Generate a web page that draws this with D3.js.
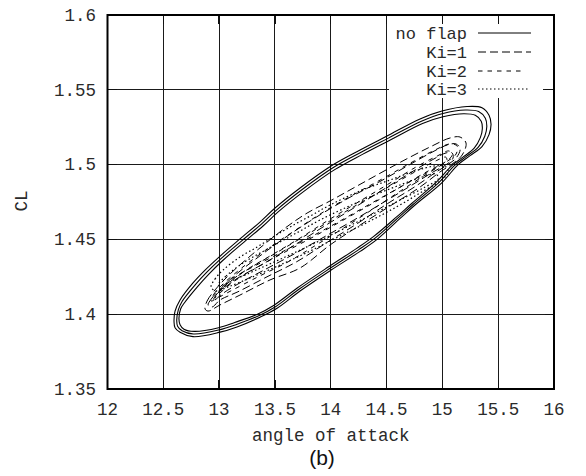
<!DOCTYPE html>
<html>
<head>
<meta charset="utf-8">
<script src="https://cdn.jsdelivr.net/npm/d3@7"></script>
<style>
  html, body { margin: 0; padding: 0; background: #fff; }
  svg { display: block; }
  .tick-label { font-family: "Liberation Mono", "DejaVu Sans Mono", monospace; font-size: 17.5px; fill: #2a2a2a; }
  .axis-title { font-family: "Liberation Mono", "DejaVu Sans Mono", monospace; font-size: 17.5px; fill: #2a2a2a; }
</style>
</head>
<body>
<svg id="chart" width="586" height="476"></svg>
<script>
// Axis ticks
const xTicks = [12, 12.5, 13, 13.5, 14, 14.5, 15, 15.5, 16];
const yTicks = [1.35, 1.4, 1.45, 1.5, 1.55, 1.6];
const xTickLabels = ["12", "12.5", "13", "13.5", "14", "14.5", "15", "15.5", "16"];
const yTickLabels = ["1.35", "1.4", "1.45", "1.5", "1.55", "1.6"];

// Series names as listed in the key
const seriesNames = ["no flap", "Ki=1", "Ki=2", "Ki=3"];

// Limit cycles: [angle of attack, CL] samples along each closed orbit
const noFlap1 = [
  [12.596,1.395],[12.605,1.402],[12.650,1.4095],[12.766,1.4209],[12.874,1.4295],[12.999,1.4382],
  [13.187,1.4503],[13.366,1.4616],[13.501,1.4710],[13.725,1.4844],[14.003,1.4991],[14.263,1.5098],
  [14.504,1.5191],[14.800,1.5305],[14.997,1.5358],[15.221,1.5388],[15.355,1.538],[15.418,1.533],
  [15.436,1.527],[15.418,1.520],[15.355,1.512],[15.248,1.506],[15.141,1.500],[14.997,1.488],
  [14.755,1.473],[14.621,1.464],[14.415,1.450],[14.263,1.442],[14.003,1.4295],[13.725,1.4155],
  [13.519,1.404],[13.366,1.398],[13.160,1.3915],[13.008,1.388],[12.766,1.385],[12.650,1.388],
  [12.605,1.391]
];
const noFlap2 = [
  [12.620,1.396],[12.635,1.403],[12.668,1.4085],[12.785,1.4196],[12.890,1.4281],[13.012,1.4368],
  [13.200,1.4489],[13.379,1.4602],[13.514,1.4696],[13.738,1.4830],[14.016,1.4977],[14.276,1.5084],
  [14.517,1.5177],[14.812,1.5290],[15.005,1.5342],[15.205,1.5365],[15.325,1.5355],[15.385,1.531],
  [15.398,1.5255],[15.380,1.519],[15.320,1.5115],[15.215,1.5055],[15.110,1.4995],[14.975,1.4885],
  [14.740,1.4735],[14.605,1.4645],[14.400,1.451],[14.248,1.443],[13.990,1.4305],[13.712,1.4165],
  [13.505,1.405],[13.355,1.399],[13.150,1.393],[13.000,1.3895],[12.770,1.3868],[12.668,1.389],
  [12.628,1.392]
];
const noFlap3 = [
  [12.640,1.397],[12.655,1.4035],[12.688,1.4075],[12.805,1.4183],[12.908,1.4268],[13.025,1.4354],
  [13.212,1.4475],[13.391,1.4588],[13.526,1.4682],[13.750,1.4816],[14.028,1.4963],[14.288,1.5070],
  [14.529,1.5163],[14.822,1.5275],[15.005,1.5320],[15.190,1.5340],[15.295,1.533],[15.348,1.529],
  [15.358,1.524],[15.340,1.518],[15.285,1.511],[15.185,1.505],[15.080,1.499],[14.955,1.489],
  [14.725,1.474],[14.590,1.465],[14.385,1.452],[14.233,1.444],[13.977,1.4315],[13.700,1.4175],
  [13.492,1.406],[13.343,1.400],[13.140,1.3945],[12.995,1.391],[12.778,1.3885],[12.685,1.390],
  [12.650,1.393]
];

const ki1a = [
  [12.874,1.4035],[12.892,1.4088],[12.963,1.4162],[13.098,1.4269],[13.322,1.4416],[13.591,1.4576],
  [13.788,1.4676],[13.994,1.4757],[14.236,1.4857],[14.594,1.5004],[14.890,1.5118],[15.069,1.5178],
  [15.159,1.5184],[15.212,1.5144],[15.177,1.5064],[15.087,1.5004],[14.979,1.4951],[14.800,1.4850],
  [14.531,1.4723],[14.263,1.4596],[13.994,1.4463],[13.725,1.4309],[13.456,1.4229],[13.187,1.4128],
  [13.008,1.4062],[12.901,1.4021]
];
const ki1b = [
  [12.901,1.4061],[12.928,1.4100],[12.999,1.4160],[13.133,1.4255],[13.357,1.4385],[13.626,1.4530],
  [13.895,1.4660],[14.164,1.4778],[14.424,1.4880],[14.684,1.4990],[14.890,1.5076],[15.051,1.5133],
  [15.123,1.5138],[15.159,1.5104],[15.123,1.5044],[15.042,1.4997],[14.944,1.4950],[14.764,1.4857],
  [14.504,1.4737],[14.236,1.4605],[13.967,1.4480],[13.698,1.4352],[13.429,1.4250],[13.169,1.4150],
  [13.008,1.4095],[12.937,1.4048]
];
const ki1c = [
  [12.945,1.4088],[12.972,1.4128],[13.044,1.4175],[13.169,1.4242],[13.393,1.4336],[13.662,1.4456],
  [13.931,1.4583],[14.191,1.4703],[14.451,1.4824],[14.711,1.4944],[14.908,1.5031],[15.033,1.5078],
  [15.087,1.5078],[15.096,1.5044],[15.042,1.5004],[14.917,1.4951],[14.729,1.4864],[14.478,1.4750],
  [14.209,1.4630],[13.940,1.4516],[13.671,1.4402],[13.402,1.4295],[13.169,1.4202],[13.026,1.4135],
  [12.963,1.4095]
];

const ki2a = [
  [12.928,1.4088],[12.954,1.4135],[13.026,1.4195],[13.187,1.4300],[13.411,1.4425],[13.680,1.4560],
  [13.949,1.4690],[14.218,1.4805],[14.487,1.4915],[14.729,1.5017],[14.935,1.5098],[15.069,1.5138],
  [15.132,1.5124],[15.123,1.5071],[15.033,1.5017],[14.890,1.4951],[14.666,1.4844],[14.424,1.4725],
  [14.155,1.4595],[13.886,1.4470],[13.618,1.4350],[13.349,1.4250],[13.116,1.4160],[12.990,1.4110]
];
const ki2b = [
  [12.963,1.4108],[12.999,1.4155],[13.080,1.4209],[13.241,1.4295],[13.456,1.4389],[13.725,1.4509],
  [13.994,1.4636],[14.263,1.4757],[14.531,1.4877],[14.764,1.4984],[14.953,1.5057],[15.060,1.5091],
  [15.087,1.5064],[15.024,1.5017],[14.872,1.4957],[14.639,1.4857],[14.397,1.4750],[14.128,1.4636],
  [13.859,1.4523],[13.591,1.4416],[13.331,1.4309],[13.125,1.4215],[13.017,1.4148]
];
const ki2c = [
  [12.990,1.4135],[13.040,1.4180],[13.130,1.4235],[13.290,1.4315],[13.500,1.4405],[13.760,1.4520],
  [14.030,1.4640],[14.290,1.4755],[14.550,1.4865],[14.780,1.4962],[14.950,1.5028],[15.030,1.5050],
  [15.040,1.5025],[14.960,1.4985],[14.820,1.4930],[14.600,1.4840],[14.360,1.4740],[14.100,1.4630],
  [13.830,1.4520],[13.560,1.4415],[13.300,1.4315],[13.120,1.4240],[13.030,1.4180]
];

const ki3a = [
  [12.928,1.4182],[12.963,1.4235],[13.035,1.4295],[13.187,1.4382],[13.340,1.4449],[13.483,1.4516],
  [13.635,1.4583],[13.815,1.4656],[13.994,1.4730],[14.263,1.4824],[14.531,1.4897],[14.755,1.4957],
  [14.935,1.4991],[15.033,1.4984],[15.051,1.4944],[14.979,1.4890],[14.800,1.4810],[14.603,1.4723],
  [14.352,1.4623],[14.083,1.4523],[13.815,1.4422],[13.546,1.4329],[13.277,1.4242],[13.080,1.4182],
  [12.972,1.4155]
];
const ki3b = [
  [12.990,1.4195],[13.062,1.4255],[13.214,1.4342],[13.384,1.4416],[13.546,1.4483],[13.725,1.4556],
  [13.904,1.4630],[14.128,1.4710],[14.370,1.4790],[14.621,1.4864],[14.818,1.4917],[14.944,1.4937],
  [14.962,1.4904],[14.845,1.4850],[14.639,1.4770],[14.397,1.4676],[14.128,1.4576],[13.859,1.4476],
  [13.591,1.4382],[13.331,1.4295],[13.134,1.4229],[13.026,1.4195]
];

const loopsBySeries = [
  [noFlap1, noFlap2, noFlap3],
  [ki1a, ki1b, ki1c],
  [ki2a, ki2b, ki2c],
  [ki3a, ki3b]
];
const dashes = [null, "8,4", "4.5,5", "1.5,2.5"];
const widths = [1.1, 1, 1, 1.2];

const svg = d3.select("#chart");
const plotLeft = 107.5, plotRight = 554, plotTop = 15, plotBottom = 389;
const x = d3.scaleLinear().domain([12, 16]).range([plotLeft, plotRight]);
const y = d3.scaleLinear().domain([1.35, 1.6]).range([plotBottom, plotTop]);

// grid
const grid = svg.append("g").attr("stroke", "#1a1a1a").attr("stroke-width", 1)
  .attr("shape-rendering", "crispEdges");
grid.selectAll("line.gx").data(xTicks.slice(1, -1)).join("line")
  .attr("x1", d => x(d)).attr("x2", d => x(d)).attr("y1", plotTop).attr("y2", plotBottom);
grid.selectAll("line.gy").data(yTicks.slice(1, -1)).join("line")
  .attr("y1", d => y(d)).attr("y2", d => y(d)).attr("x1", plotLeft).attr("x2", plotRight);

// key background masks the grid behind it
svg.append("rect").attr("x", 389).attr("y", plotTop + 1).attr("width", 154).attr("height", 82)
  .attr("fill", "#fff");

// inward ticks on all four sides
const tickLen = 9;
const ticks = svg.append("g").attr("stroke", "#111").attr("stroke-width", 1.3)
  .attr("shape-rendering", "crispEdges");
xTicks.forEach(t => {
  ticks.append("line").attr("x1", x(t)).attr("x2", x(t)).attr("y1", plotBottom).attr("y2", plotBottom - tickLen);
  ticks.append("line").attr("x1", x(t)).attr("x2", x(t)).attr("y1", plotTop).attr("y2", plotTop + tickLen);
});
yTicks.forEach(t => {
  ticks.append("line").attr("y1", y(t)).attr("y2", y(t)).attr("x1", plotLeft).attr("x2", plotLeft + tickLen);
  ticks.append("line").attr("y1", y(t)).attr("y2", y(t)).attr("x1", plotRight).attr("x2", plotRight - tickLen);
});

// orbits
const line = d3.line().x(d => x(d[0])).y(d => y(d[1])).curve(d3.curveCatmullRomClosed.alpha(0.5));
const orbits = svg.append("g").attr("fill", "none").attr("stroke", "#000");
loopsBySeries.forEach((loops, i) => {
  orbits.selectAll(null).data(loops).join("path")
    .attr("d", line)
    .attr("stroke-width", widths[i])
    .attr("stroke-dasharray", dashes[i]);
});

// border
svg.append("rect").attr("x", plotLeft).attr("y", plotTop)
  .attr("width", plotRight - plotLeft).attr("height", plotBottom - plotTop)
  .attr("fill", "none").attr("stroke", "#000").attr("stroke-width", 2);

// tick labels
svg.append("g").selectAll("text").data(xTicks).join("text")
  .attr("class", "tick-label")
  .attr("x", d => x(d)).attr("y", 415).attr("text-anchor", "middle")
  .text((d, i) => xTickLabels[i]);
svg.append("g").selectAll("text").data(yTicks).join("text")
  .attr("class", "tick-label")
  .attr("x", 96).attr("y", d => y(d)).attr("dy", "0.33em").attr("text-anchor", "end")
  .text((d, i) => yTickLabels[i]);

// axis titles
svg.append("text").attr("class", "axis-title")
  .attr("x", x(14)).attr("y", 441).attr("text-anchor", "middle").text("angle of attack");
svg.append("text").attr("class", "axis-title")
  .attr("transform", "translate(27,201) rotate(-90)")
  .attr("text-anchor", "middle").text("CL");
svg.append("text")
  .attr("x", 322).attr("y", 465).attr("text-anchor", "middle")
  .style("font-family", "Liberation Sans, Arial, sans-serif").style("font-size", "21px").style("fill", "#111")
  .text("(b)");

// key
const keyRows = [33, 52, 71, 89];
const keyEnds = [531, 531, 524, 528];
const key = svg.append("g");
seriesNames.forEach((name, i) => {
  key.append("text").attr("class", "tick-label")
    .attr("x", 467).attr("y", keyRows[i]).attr("dy", "0.35em").attr("text-anchor", "end")
    .style("font-size", "17px").text(name);
  key.append("line").attr("x1", 478).attr("x2", keyEnds[i]).attr("y1", keyRows[i]).attr("y2", keyRows[i])
    .attr("stroke", "#000").attr("stroke-width", 1).attr("stroke-dasharray", dashes[i]);
});
</script>
</body>
</html>
